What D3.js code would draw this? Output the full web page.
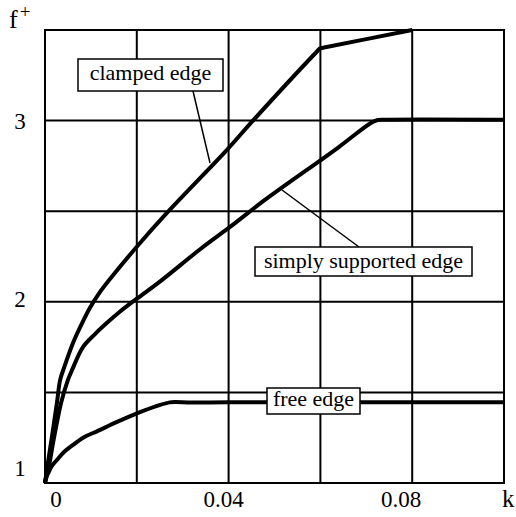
<!DOCTYPE html>
<html>
<head>
<meta charset="utf-8">
<script src="https://cdn.jsdelivr.net/npm/d3@7"></script>
</head>
<body style="margin:0">
<svg id="fig" width="516" height="517"></svg>
<script>
// curves: [k, f+]
let clampedEdge = [[0, 1], [0.0004, 1.072], [0.0015, 1.254], [0.0026, 1.442], [0.0033, 1.569],
  [0.0042, 1.64], [0.0061, 1.773], [0.008, 1.878], [0.0098, 1.967], [0.012, 2.055],
  [0.0142, 2.127], [0.02, 2.304], [0.0266, 2.492], [0.0397, 2.84], [0.0451, 2.994],
  [0.0592, 3.38], [0.0599, 3.398], [0.0608, 3.403], [0.08, 3.5]];
let simplyEdge = [[0, 1], [0.0007, 1.072], [0.002, 1.254], [0.0035, 1.442], [0.005, 1.569],
  [0.0059, 1.624], [0.0083, 1.751], [0.0109, 1.822], [0.0135, 1.884], [0.0163, 1.945],
  [0.02, 2.017], [0.0251, 2.113], [0.0338, 2.29], [0.0403, 2.413], [0.0479, 2.562],
  [0.0638, 2.85], [0.071, 2.987], [0.0725, 3.003], [0.074, 3.005], [0.1, 3.005]];
let freeEdge = [[0, 1], [0.0002, 1.028], [0.0007, 1.055], [0.0015, 1.094], [0.0026, 1.127],
  [0.0042, 1.172], [0.0061, 1.21], [0.0085, 1.253], [0.0113, 1.285], [0.0157, 1.337],
  [0.0203, 1.387], [0.0251, 1.431], [0.0272, 1.445], [0.0282, 1.447], [0.032, 1.444],
  [0.04, 1.445], [0.1, 1.445]];

let xGrid = [0, 0.02, 0.04, 0.06, 0.08, 0.1];
let yGrid = [1, 1.5, 2, 2.5, 3, 3.5];
let xLabels = ["0", "0.04", "0.08"];
let xLabelVals = [0, 0.04, 0.08];
let yLabels = ["1", "2", "3"];
let yLabelVals = [1, 2, 3];
let curveNames = ["clamped edge", "simply supported edge", "free edge"];

let svg = d3.select("#fig");
let plotLeft = 45, plotRight = 504, plotTop = 30, plotBottom = 483;

let x = d3.scaleLinear().domain([0, 0.1]).range([plotLeft, plotRight]);
let y = d3.scaleLinear().domain([1, 3.5]).range([plotBottom, plotTop]);

// grid
svg.append("g")
  .selectAll("line")
  .data(xGrid)
  .enter()
  .append("line")
  .attr("x1", d => x(d))
  .attr("x2", d => x(d))
  .attr("y1", y(1))
  .attr("y2", y(3.5))
  .attr("stroke", "#000")
  .attr("stroke-width", 2);

svg.append("g")
  .selectAll("line")
  .data(yGrid)
  .enter()
  .append("line")
  .attr("x1", x(0) - 1)
  .attr("x2", x(0.1) + 1)
  .attr("y1", d => y(d))
  .attr("y2", d => y(d))
  .attr("stroke", "#000")
  .attr("stroke-width", 2);

// curves
let line = d3.line()
  .x(d => x(d[0]))
  .y(d => y(d[1]))
  .curve(d3.curveCatmullRom.alpha(0.5));

svg.append("g")
  .selectAll("path")
  .data([clampedEdge, simplyEdge, freeEdge])
  .enter()
  .append("path")
  .attr("d", line)
  .attr("fill", "none")
  .attr("stroke", "#000")
  .attr("stroke-width", 4)
  .attr("stroke-linejoin", "round");

// tick labels
let xNudge = [11, -5, -11];
svg.append("g")
  .selectAll("text")
  .data(xLabelVals)
  .enter()
  .append("text")
  .attr("x", (d, i) => x(d) + xNudge[i])
  .attr("y", 507)
  .attr("text-anchor", "middle")
  .attr("font-size", 23)
  .attr("font-family", "Liberation Serif")
  .text((d, i) => xLabels[i]);

let yNudge = [-7, 5, 8];
svg.append("g")
  .selectAll("text")
  .data(yLabelVals)
  .enter()
  .append("text")
  .attr("x", 20)
  .attr("y", (d, i) => y(d) + yNudge[i])
  .attr("text-anchor", "middle")
  .attr("font-size", 23)
  .attr("font-family", "Liberation Serif")
  .text((d, i) => yLabels[i]);

svg.append("text")
  .attr("x", 502)
  .attr("y", 507)
  .attr("font-size", 25)
  .attr("font-family", "Liberation Serif")
  .text("k");

let fl = svg.append("text")
  .attr("x", 9)
  .attr("y", 28)
  .attr("font-size", 26)
  .attr("font-family", "Liberation Serif");
fl.append("tspan").text("f");
fl.append("tspan").attr("dx", 2).attr("dy", -10).attr("font-size", 19).text("+");

// labels with leader lines
let boxes = [
  { x0: 78, y0: 59, x1: 223, y1: 91, base: 80, lead: [[193, 91], [210, 163]] },
  { x0: 255, y0: 247, x1: 472, y1: 276, base: 268, lead: [[282, 190], [359, 247]] },
  { x0: 267, y0: 388, x1: 360, y1: 414, base: 406, lead: null }
];

boxes.forEach((b, i) => {
  if (b.lead) {
    svg.append("line")
      .attr("x1", b.lead[0][0]).attr("y1", b.lead[0][1])
      .attr("x2", b.lead[1][0]).attr("y2", b.lead[1][1])
      .attr("stroke", "#000")
      .attr("stroke-width", 1.5);
  }
  svg.append("rect")
    .attr("x", b.x0)
    .attr("y", b.y0)
    .attr("width", b.x1 - b.x0)
    .attr("height", b.y1 - b.y0)
    .attr("fill", "#fff")
    .attr("stroke", "#000")
    .attr("stroke-width", 1.5);
  svg.append("text")
    .attr("x", (b.x0 + b.x1) / 2)
    .attr("y", b.base)
    .attr("text-anchor", "middle")
    .attr("font-size", 22)
    .attr("font-family", "Liberation Serif")
    .text(curveNames[i]);
});
</script>
</body>
</html>
